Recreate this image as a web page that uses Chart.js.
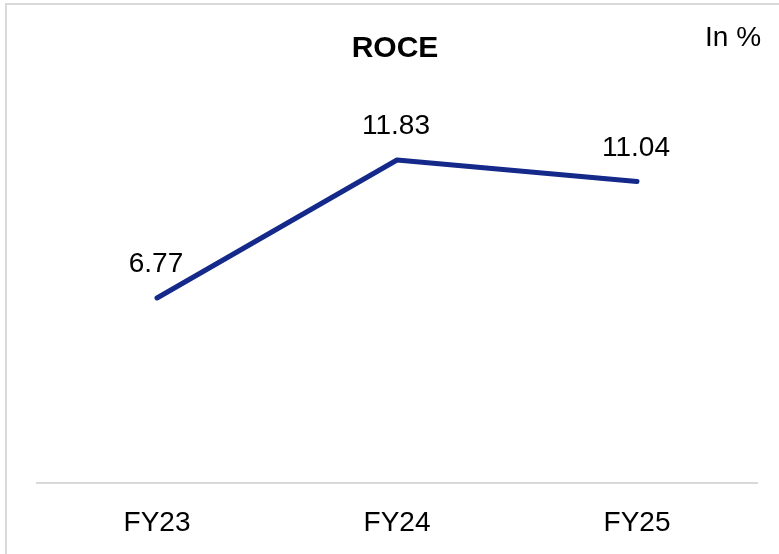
<!DOCTYPE html>
<html>
<head>
<meta charset="utf-8">
<script src="https://cdn.jsdelivr.net/npm/chart.js@4/dist/chart.umd.min.js"></script>
<style>
  html, body { margin: 0; padding: 0; background: #fff; }
  #wrap { position: relative; width: 779px; height: 554px; }
  #frame { position: absolute; left: 5px; top: 3px; right: 0; bottom: 0;
           border-top: 2px solid #d9d9d9; border-left: 2px solid #d9d9d9; }
  canvas { position: absolute; left: 0; top: 0; }
</style>
</head>
<body>
<div id="wrap"><div id="frame"></div><canvas id="c" width="779" height="554"></canvas></div>
<script>
const categories = ["FY23", "FY24", "FY25"];
const roceValues = [6.77, 11.83, 11.04];
const titleText = "ROCE";
const unitText = "In %";

const FONT = "'Liberation Sans', Arial, sans-serif";

const overlay = {
  id: 'overlay',
  afterDatasetsDraw(chart) {
    const ctx = chart.ctx;
    ctx.save();
    ctx.fillStyle = '#000';
    // title
    ctx.font = 'bold 30px ' + FONT;
    ctx.textAlign = 'center';
    ctx.textBaseline = 'middle';
    ctx.fillText(titleText, 395, 49);
    // unit
    ctx.font = '28px ' + FONT;
    ctx.textAlign = 'left';
    ctx.fillText(unitText, 705, 38);
    // data labels
    const meta = chart.getDatasetMeta(0);
    ctx.textAlign = 'center';
    ctx.textBaseline = 'alphabetic';
    meta.data.forEach((pt, i) => {
      ctx.fillText(roceValues[i].toFixed(2), pt.x - 1, pt.y - 26);
    });
    ctx.restore();
  }
};

new Chart(document.getElementById('c'), {
  type: 'line',
  data: {
    labels: categories,
    datasets: [{
      data: roceValues,
      borderColor: '#14298a',
      borderWidth: 5,
      borderCapStyle: 'round',
      borderJoinStyle: 'round',
      pointRadius: 0,
      tension: 0,
      fill: false
    }]
  },
  options: {
    responsive: false,
    animation: false,
    layout: { padding: { left: 37, right: 22, top: 100.8, bottom: 0 } },
    plugins: { legend: { display: false }, title: { display: false }, tooltip: { enabled: false } },
    scales: {
      x: {
        offset: true,
        grid: { display: false, drawTicks: false },
        border: { display: true, color: '#d9d9d9', width: 2 },
        ticks: { color: '#000', font: { family: FONT, size: 28 }, padding: 24 },
        afterFit(scale) { scale.height = 71.4; }
      },
      y: {
        display: false,
        min: 0,
        max: 14
      }
    }
  },
  plugins: [overlay]
});
</script>
</body>
</html>
